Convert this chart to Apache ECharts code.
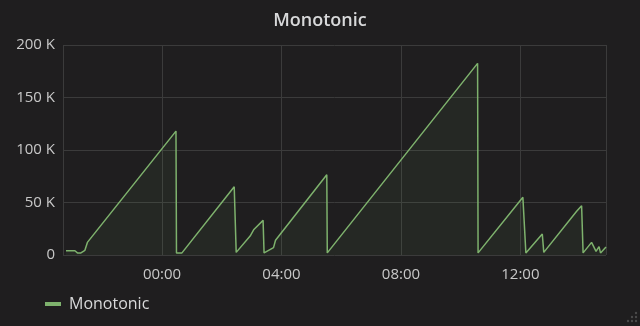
<!DOCTYPE html>
<html>
<head>
<meta charset="utf-8">
<script src="https://cdn.jsdelivr.net/npm/echarts@6/dist/echarts.min.js"></script>
<style>
html,body{margin:0;padding:0;background:#1f1e1f;}
#c{width:640px;height:326px;}
</style>
</head>
<body>
<div id="c"></div>
<script>
const times = ['2024-01-01 20:47','2024-01-01 21:05','2024-01-01 21:10','2024-01-01 21:17','2024-01-01 21:25','2024-01-01 21:30',
  '2024-01-02 00:28','2024-01-02 00:29','2024-01-02 00:40','2024-01-02 02:25','2024-01-02 02:29','2024-01-02 02:57',
  '2024-01-02 03:04','2024-01-02 03:23','2024-01-02 03:25','2024-01-02 03:44','2024-01-02 03:48','2024-01-02 05:31',
  '2024-01-02 05:32','2024-01-02 10:34','2024-01-02 10:35','2024-01-02 12:05','2024-01-02 12:11','2024-01-02 12:44',
  '2024-01-02 12:47','2024-01-02 13:53','2024-01-02 14:03','2024-01-02 14:06','2024-01-02 14:23','2024-01-02 14:32',
  '2024-01-02 14:38','2024-01-02 14:41','2024-01-02 14:52'];
const values = [4000,4000,2000,2000,4500,12000,118000,2000,2000,65000,2500,18000,24000,33000,2000,7000,14000,76500,
  2000,182500,2000,55000,2000,20000,2500,41600,47000,2000,12000,3500,8000,2000,7600];
const seriesName = 'Monotonic';
const yTicks = [0, 50000, 100000, 150000, 200000];
const xMin = '2024-01-01 20:41';
const xMax = '2024-01-02 14:52';

const chart = echarts.init(document.getElementById('c'), null, {renderer:'canvas'});
const data = times.map((t,i)=>[t, values[i]]);
const dots = [[636,313],[632,317],[636,317],[628,321],[632,321],[636,321]].map(p=>({
  type:'circle',shape:{cx:p[0],cy:p[1],r:1.2},style:{fill:'#4a4a4a'},silent:true}));
chart.setOption({
  backgroundColor:'#1f1e1f',
  animation:false,
  title:{text:'Monotonic',left:'center',top:7,textStyle:{color:'#d8d9da',fontSize:18,fontWeight:600,fontFamily:'Open Sans'}},
  grid:{left:63,right:34,top:45,bottom:71},
  legend:{left:40,top:291,itemWidth:16,itemHeight:4,icon:'rect',
    textStyle:{color:'#d8d9da',fontSize:16,fontFamily:'Open Sans',padding:[0,0,0,3]},data:[seriesName]},
  graphic:dots,
  xAxis:{type:'time',min:xMin,max:xMax,minInterval:4*3600*1000,maxInterval:4*3600*1000,
    axisLine:{show:false},axisTick:{show:false},
    axisLabel:{color:'#c8c8c8',fontSize:15,fontFamily:'Open Sans',formatter:'{HH}:{mm}',margin:12,hideOverlap:false},
    splitLine:{show:true,lineStyle:{color:'#3b3b3b',width:1}}},
  yAxis:{type:'value',min:yTicks[0],max:yTicks[yTicks.length-1],interval:50000,
    axisLine:{show:false},axisTick:{show:false},
    axisLabel:{color:'#c8c8c8',fontSize:15,fontFamily:'Open Sans',margin:8,formatter:v=>v===0?'0':(v/1000)+' K'},
    splitLine:{lineStyle:{color:'#3b3b3b',width:1}}},
  series:[{name:seriesName,type:'line',data:data,showSymbol:false,symbol:'none',
    lineStyle:{color:'#7eb26d',width:1.5},itemStyle:{color:'#7eb26d'},
    areaStyle:{color:'rgba(126,178,109,0.1)'}}]
});
</script>
</body>
</html>
